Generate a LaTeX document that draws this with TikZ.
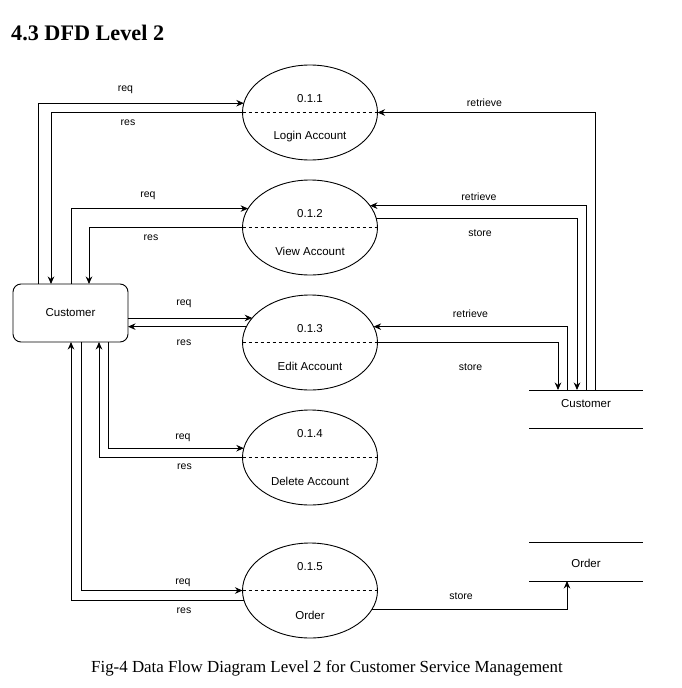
\documentclass[tikz,border=0pt]{standalone}
\usepackage{fontspec}
\setmainfont{Liberation Serif}
\setsansfont{Liberation Sans}
\usetikzlibrary{arrows.meta,positioning,shapes.geometric}

\begin{document}
\begin{tikzpicture}[x=1pt, y=-1pt, >={Stealth[length=7.5pt,width=6.5pt]}, node distance=20pt]
  \tikzstyle{proc}=[draw, ellipse, line width=0.9pt, minimum width=135pt, minimum height=95pt, inner sep=0pt, outer sep=0pt]
  \tikzstyle{ptext}=[font=\sffamily\fontsize{11.5}{13}\selectfont, inner sep=0pt]
  \tikzstyle{entity}=[draw, line width=0.9pt, rounded corners=8pt, minimum width=115pt, minimum height=58pt, outer sep=0pt, font=\sffamily\fontsize{11.5}{13}\selectfont]
  \tikzstyle{store}=[minimum width=114pt, inner sep=0pt, outer sep=0pt]
  \tikzstyle{flowlbl}=[font=\sffamily\fontsize{10.5}{12}\selectfont, inner sep=0pt]
  \tikzstyle{flow}=[->, line width=0.9pt]

  \useasboundingbox (0,0) rectangle (682,688);
  \node[anchor=base west, inner sep=0pt, font=\bfseries\fontsize{22.2}{26}\selectfont] (title) at (11,40) {4.3 DFD Level 2};

  % processes
  \node[proc] (p1) at (310,112.5) {};
  \node[proc, below=of p1] (p2) {};
  \node[proc, below=of p2] (p3) {};
  \node[proc, below=of p3] (p4) {};
  \node[proc, below=38pt of p4] (p5) {};
  \foreach \p in {p1,p2,p3,p4,p5}
    \draw[line width=0.9pt, dash pattern=on 3pt off 3pt] (\p.west) -- (\p.east);

  \node[ptext] (n1) at ([yshift=13.5pt]p1.center) {0.1.1};
  \node[ptext] (t1) at ([yshift=-24.5pt]p1.center) {Login Account};
  \node[ptext] (n2) at ([yshift=13.5pt]p2.center) {0.1.2};
  \node[ptext] (t2) at ([yshift=-24pt]p2.center) {View Account};
  \node[ptext] (n3) at ([yshift=14pt]p3.center) {0.1.3};
  \node[ptext] (t3) at ([yshift=-23.5pt]p3.center) {Edit Account};
  \node[ptext] (n4) at ([yshift=23.5pt]p4.center) {0.1.4};
  \node[ptext] (t4) at ([yshift=-24pt]p4.center) {Delete Account};
  \node[ptext] (n5) at ([yshift=23.5pt]p5.center) {0.1.5};
  \node[ptext] (t5) at ([yshift=-24.5pt]p5.center) {Order};

  % external entity and data stores
  \node[entity] (cust) at (70.5,313) {Customer};

  \node[store, minimum height=38pt] (cstore) at (586,409) {};
  \node[ptext] (cstoret) at (586,404) {Customer};
  \draw[line width=0.9pt] (cstore.north west) -- (cstore.north east);
  \draw[line width=0.9pt] (cstore.south west) -- (cstore.south east);

  \node[store, minimum height=39pt] (ostore) at (586,561.5) {};
  \node[ptext] (ostoret) at (586,563) {Order};
  \draw[line width=0.9pt] (ostore.north west) -- (ostore.north east);
  \draw[line width=0.9pt] (ostore.south west) -- (ostore.south east);

  % login
  \draw[flow] ([xshift=25pt]cust.north west) |- (p1.172);
  \draw[flow] (p1.west) -| ([xshift=38pt]cust.north west);
  \draw[flow] ([xshift=66pt]cstore.north west) |- (p1.east);
  % view
  \draw[flow] ([xshift=58pt]cust.north west) |- (p2.163);
  \draw[flow] (p2.west) -| ([xshift=76pt]cust.north west);
  \draw[flow] ([xshift=57pt]cstore.north west) |- (p2.20);
  \draw[flow] (p2.8) -| ([xshift=48pt]cstore.north west);
  % edit
  \draw[flow] (cust.east |- p3.157) -- (p3.157);
  \draw[flow] (p3.166) -- (cust.east |- p3.166);
  \draw[flow] ([xshift=38pt]cstore.north west) |- (p3.14);
  \draw[flow] (p3.east) -| ([xshift=29pt]cstore.north west);
  % delete
  \draw[flow] ([xshift=95pt]cust.south west) |- (p4.172);
  \draw[flow] (p4.west) -| ([xshift=86pt]cust.south west);
  % order
  \draw[flow] ([xshift=68pt]cust.south west) |- (p5.west);
  \draw[flow] (p5.189) -| ([xshift=58pt]cust.south west);
  \draw[flow] (p5.343) -| ([xshift=38pt]ostore.south west);

  % flow labels
  \node[flowlbl] (lq1) at (125.5,90) {req};
  \node[flowlbl] (ls1) at (128,123) {res};
  \node[flowlbl] (lr1) at (484.5,103) {retrieve};
  \node[flowlbl] (lq2) at (148,196) {req};
  \node[flowlbl] (ls2) at (151,238) {res};
  \node[flowlbl] (lr2) at (479,197) {retrieve};
  \node[flowlbl] (lw2) at (480,233) {store};
  \node[flowlbl] (lq3) at (184,304) {req};
  \node[flowlbl] (ls3) at (184,343) {res};
  \node[flowlbl] (lr3) at (470.5,314) {retrieve};
  \node[flowlbl] (lw3) at (470.5,367) {store};
  \node[flowlbl] (lq4) at (183,438) {req};
  \node[flowlbl] (ls4) at (184.5,467) {res};
  \node[flowlbl] (lq5) at (183,583) {req};
  \node[flowlbl] (ls5) at (184,611) {res};
  \node[flowlbl] (lw5) at (461,596) {store};

  \node[anchor=base, inner sep=0pt, font=\fontsize{16.9}{20}\selectfont] (caption) at (327,672) {Fig-4 Data Flow Diagram Level 2 for Customer Service Management};
\end{tikzpicture}
\end{document}
